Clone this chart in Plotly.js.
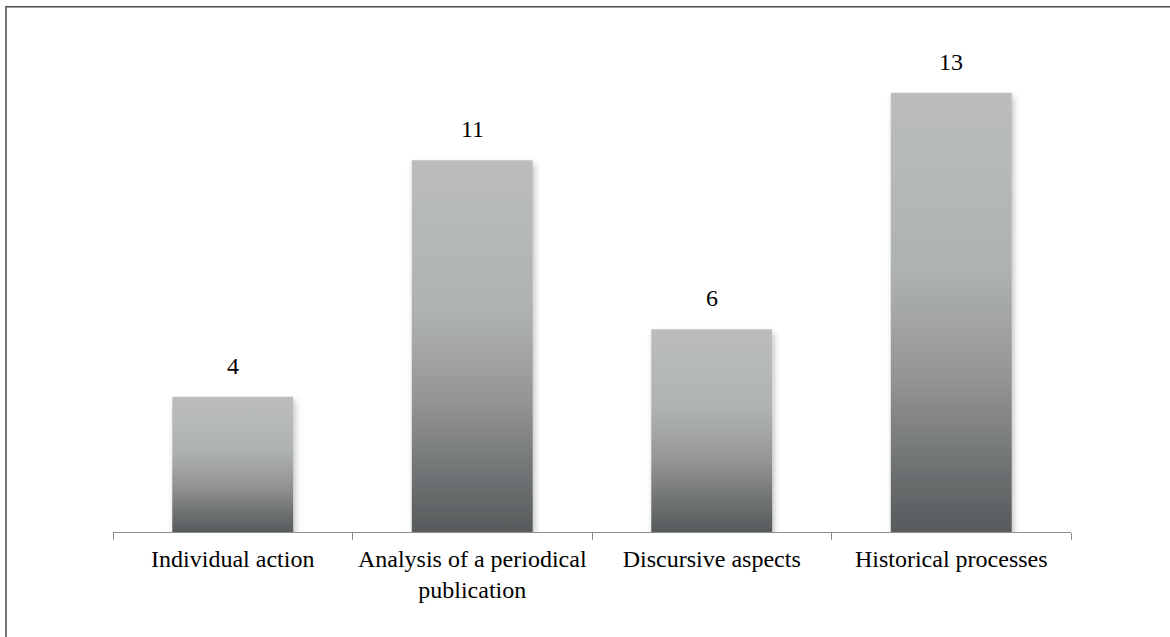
<!DOCTYPE html>
<html>
<head>
<meta charset="utf-8">
<script src="https://cdn.plot.ly/plotly-3.0.1.min.js"></script>
<style>
  html, body { margin: 0; padding: 0; background: #fff; }
  #chart { width: 1170px; height: 637px; }
</style>
</head>
<body>
<div id="chart"></div>
<script>
const categories = ["Individual action", "Analysis of a periodical<br>publication", "Discursive aspects", "Historical processes"];
const values = [4, 11, 6, 13];
const valueLabels = ["4", "11", "6", "13"];

const FONT = "Liberation Serif, Times New Roman, serif";

const trace = {
  type: "bar",
  x: categories,
  y: values,
  marker: { color: "#9a9c9d", line: { width: 0 } },
  hoverinfo: "none",
  cliponaxis: false
};

const annotations = categories.map((c, i) => ({
  x: c,
  y: values[i],
  xref: "x",
  yref: "y",
  text: valueLabels[i],
  showarrow: false,
  yanchor: "bottom",
  yshift: 16,
  font: { family: FONT, size: 24, color: "#000" }
}));

const layout = {
  width: 1170,
  height: 637,
  margin: { l: 113, r: 99, t: 59, b: 105 },
  paper_bgcolor: "#fff",
  plot_bgcolor: "#fff",
  showlegend: false,
  bargap: 0.495,
  xaxis: {
    type: "category",
    range: [-0.5, 3.5],
    showline: true,
    linecolor: "#8c8c8c",
    linewidth: 1,
    ticks: "outside",
    tickson: "boundaries",
    ticklen: 7,
    tickcolor: "#8c8c8c",
    tickwidth: 1,
    ticklabelstandoff: 5,
    showgrid: false,
    zeroline: false,
    tickfont: { family: FONT, size: 24, color: "#000" },
    fixedrange: true
  },
  yaxis: {
    range: [0, 14],
    visible: false,
    showgrid: false,
    zeroline: false,
    fixedrange: true
  },
  annotations: annotations,
  shapes: [{
    type: "rect",
    xref: "paper",
    yref: "paper",
    x0: -0.1117,
    x1: 1.3,
    y0: -0.5,
    y1: 1.1104,
    line: { color: "#4a4a4a", width: 1.5 },
    fillcolor: "rgba(0,0,0,0)",
    layer: "below"
  }]
};

Plotly.newPlot("chart", [trace], layout, { displayModeBar: false, staticPlot: true }).then(gd => {
  const svg = gd.querySelector("svg.main-svg");
  const NS = "http://www.w3.org/2000/svg";
  let defs = svg.querySelector("defs");
  if (!defs) { defs = document.createElementNS(NS, "defs"); svg.insertBefore(defs, svg.firstChild); }
  const grad = document.createElementNS(NS, "linearGradient");
  grad.setAttribute("id", "barGrad");
  grad.setAttribute("x1", "0"); grad.setAttribute("y1", "0");
  grad.setAttribute("x2", "0"); grad.setAttribute("y2", "1");
  [["0", "#bbbdbd"], ["0.4", "#afb2b3"], ["0.65", "#939495"], ["0.85", "#6f7273"], ["1", "#575b5c"]].forEach(([o, c]) => {
    const s = document.createElementNS(NS, "stop");
    s.setAttribute("offset", o);
    s.setAttribute("stop-color", c);
    grad.appendChild(s);
  });
  defs.appendChild(grad);
  const filt = document.createElementNS(NS, "filter");
  filt.setAttribute("id", "barShadow");
  filt.setAttribute("x", "-20%"); filt.setAttribute("y", "-20%");
  filt.setAttribute("width", "140%"); filt.setAttribute("height", "140%");
  const ds = document.createElementNS(NS, "feDropShadow");
  ds.setAttribute("dx", "2"); ds.setAttribute("dy", "4");
  ds.setAttribute("stdDeviation", "3");
  ds.setAttribute("flood-color", "#000");
  ds.setAttribute("flood-opacity", "0.25");
  filt.appendChild(ds);
  defs.appendChild(filt);
  gd.querySelectorAll(".bars .point path").forEach(p => {
    p.style.fill = "url(#barGrad)";
    p.setAttribute("filter", "url(#barShadow)");
  });
});
</script>
</body>
</html>
